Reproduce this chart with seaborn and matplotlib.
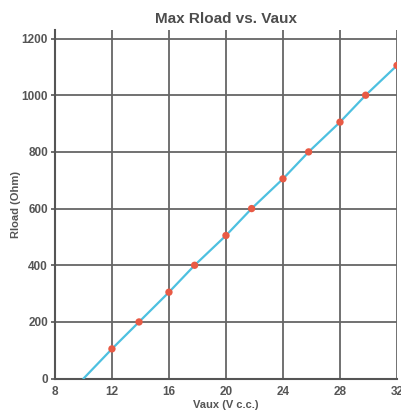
import matplotlib
matplotlib.use('Agg')
import matplotlib.pyplot as plt
import seaborn as sns
import pandas as pd

# values
line_vaux = [10, 12, 13.9, 16, 17.8, 20, 21.8, 24, 25.8, 28, 29.8, 32]
line_rload = [0, 105, 200, 305, 400, 505, 600, 705, 800, 905, 1000, 1105]
pt_vaux = [12, 13.9, 16, 17.8, 20, 21.8, 24, 25.8, 28, 29.8, 32]
pt_rload = [105, 200, 305, 400, 505, 600, 705, 800, 905, 1000, 1105]
x_ticks = [8, 12, 16, 20, 24, 28, 32]
y_ticks = [0, 200, 400, 600, 800, 1000, 1200]

sns.set_style('white')
plt.rcParams['font.family'] = ['Liberation Sans', 'DejaVu Sans']

line_df = pd.DataFrame({'Vaux': line_vaux, 'Rload': line_rload})
pt_df = pd.DataFrame({'Vaux': pt_vaux, 'Rload': pt_rload})

fig = plt.figure(figsize=(4.01, 4.17), dpi=100)
ax = fig.add_axes([0.137, 0.092, 0.853, 0.836])

sns.lineplot(data=line_df, x='Vaux', y='Rload', color='#4dc0e0', linewidth=1.6, ax=ax, zorder=3)
sns.scatterplot(data=pt_df, x='Vaux', y='Rload', color='#e85a45', s=28, edgecolor='none', ax=ax, zorder=4)

ax.set_xlim(8, 32)
ax.set_ylim(0, 1230)
ax.set_xticks(x_ticks)
ax.set_yticks(y_ticks)
ax.grid(True, color='#666666', linewidth=1.3)
ax.set_axisbelow(True)

for side in ['top', 'right']:
    ax.spines[side].set_visible(False)
for side in ['left', 'bottom']:
    ax.spines[side].set_color('#555555')
    ax.spines[side].set_linewidth(1.5)

ax.tick_params(axis='both', labelsize=8.5, colors='#555555', length=3, width=1.2,
               left=True, bottom=False, pad=2)
for lab in ax.get_xticklabels() + ax.get_yticklabels():
    lab.set_fontweight('bold')

ax.set_title('Max Rload vs. Vaux', fontsize=11, fontweight='bold', color='#4d4d4d', pad=5)
ax.set_xlabel('Vaux (V c.c.)', fontsize=8, fontweight='bold', color='#555555', labelpad=2)
ax.set_ylabel('Rload (Ohm)', fontsize=8, fontweight='bold', color='#555555', labelpad=0)

fig.savefig('out.png', dpi=100)
plt.close()
